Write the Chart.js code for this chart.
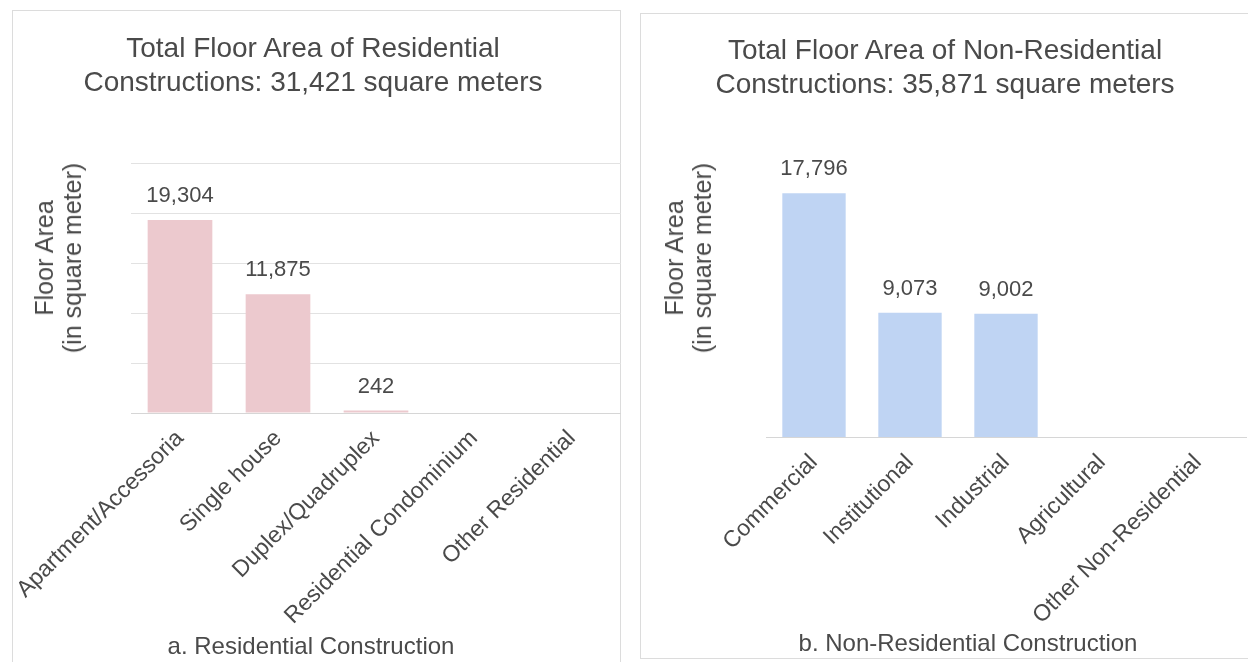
<!DOCTYPE html>
<html>
<head>
<meta charset="utf-8">
<script src="https://cdn.jsdelivr.net/npm/chart.js@4"></script>
<style>
  body { margin: 0; background: #fff; }
  #wrap { position: relative; width: 1248px; height: 662px; overflow: hidden; font-family: "Liberation Sans", Arial, sans-serif; color: #4a4a4a; }
  .panel { position: absolute; border: 1px solid #dcdcdc; }
  canvas { position: absolute; top: 0; }
  .txt { position: absolute; text-align: center; white-space: nowrap; pointer-events: none; }
  .title { font-size: 28px; line-height: 34px; }
  .ytitle { font-size: 25px; line-height: 28px; transform: translate(-50%, -50%) rotate(-90deg); }
  .caption { font-size: 24px; line-height: 28px; }
</style>
</head>
<body>
<div id="wrap">
  <div class="panel" style="left:12px; top:10px; width:607px; height:660px;"></div>
  <div class="panel" style="left:640px; top:13px; width:620px; height:644px;"></div>

  <canvas id="chartRes" width="621" height="662" style="left:0px;"></canvas>
  <canvas id="chartNonRes" width="622" height="662" style="left:626px;"></canvas>

  <div class="txt title" style="left:313px; top:31px; transform:translateX(-50%);">Total Floor Area of Residential<br>Constructions: 31,421 square meters</div>
  <div class="txt title" style="left:945px; top:33px; transform:translateX(-50%);">Total Floor Area of Non-Residential<br>Constructions: 35,871 square meters</div>

  <div class="txt ytitle" style="left:58px; top:258px;">Floor Area<br>(in square meter)</div>
  <div class="txt ytitle" style="left:688px; top:258px;">Floor Area<br>(in square meter)</div>

  <div class="txt caption" style="left:311px; top:632px; transform:translateX(-50%);">a. Residential Construction</div>
  <div class="txt caption" style="left:968px; top:629px; transform:translateX(-50%);">b. Non-Residential Construction</div>
</div>

<script>
  // data
  const resLabels = ["Apartment/Accessoria", "Single house", "Duplex/Quadruplex", "Residential Condominium", "Other Residential"];
  const resValues = [19304, 11875, 242, 0, 0];

  const nonResLabels = ["Commercial", "Institutional", "Industrial", "Agricultural", "Other Non-Residential"];
  const nonResValues = [17796, 9073, 9002, 0, 0];

  Chart.defaults.font.family = '"Liberation Sans", Arial, sans-serif';
  Chart.defaults.color = '#4a4a4a';

  // numbers above the bars
  const valueLabels = {
    id: 'valueLabels',
    afterDatasetsDraw(chart) {
      const ctx = chart.ctx;
      const meta = chart.getDatasetMeta(0);
      const values = chart.data.datasets[0].data;
      ctx.save();
      ctx.font = '22px "Liberation Sans", Arial, sans-serif';
      ctx.fillStyle = '#4a4a4a';
      ctx.textAlign = 'center';
      ctx.textBaseline = 'middle';
      meta.data.forEach((bar, i) => {
        if (values[i] > 0) {
          ctx.fillText(values[i].toLocaleString('en-US'), bar.x, bar.y - 24);
        }
      });
      ctx.restore();
    }
  };

  function makeChart(id, labels, values, color, yMax, showGrid, yWidth, xHeight, padRight) {
    const ctx = document.getElementById(id).getContext('2d');
    return new Chart(ctx, {
      type: 'bar',
      data: {
        labels: labels,
        datasets: [{
          data: values,
          backgroundColor: color,
          categoryPercentage: 1,
          barPercentage: 0.66
        }]
      },
      options: {
        responsive: false,
        animation: false,
        layout: { padding: { top: 163, right: padRight, left: 0, bottom: 0 } },
        plugins: {
          legend: { display: false },
          title: { display: false },
          tooltip: { enabled: false }
        },
        scales: {
          x: {
            grid: { display: false },
            border: { display: true, color: '#d6d6d6' },
            ticks: {
              autoSkip: false,
              minRotation: 45,
              maxRotation: 45,
              padding: 4,
              font: { size: 23 },
              color: '#4a4a4a'
            },
            afterFit(scale) { scale.height = xHeight; }
          },
          y: {
            min: 0,
            max: yMax,
            ticks: { display: false, stepSize: 5000 },
            grid: { display: showGrid, color: '#e2e2e2', drawTicks: false },
            border: { display: false },
            afterFit(scale) { scale.width = yWidth; }
          }
        }
      },
      plugins: [valueLabels]
    });
  }

  makeChart('chartRes', resLabels, resValues, '#ecc9ce', 25000, true, 131, 249, 0);
  makeChart('chartNonRes', nonResLabels, nonResValues, '#bfd4f3', 20000, false, 140, 225, 2);
</script>
</body>
</html>
